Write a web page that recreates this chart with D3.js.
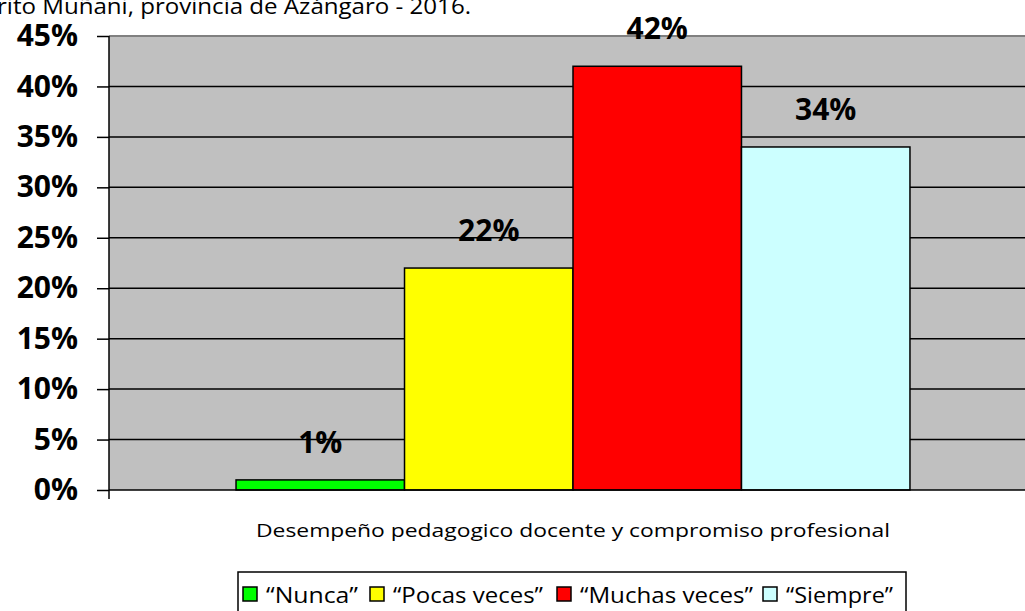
<!DOCTYPE html>
<html>
<head>
<meta charset="utf-8">
<script src="https://cdn.jsdelivr.net/npm/d3@7"></script>
<style>
  html, body { margin: 0; padding: 0; background: #fff; overflow: hidden; }
  svg { display: block; }
  text { font-family: "Open Sans", "Noto Sans", sans-serif; }
</style>
</head>
<body>
<div id="grafico"></div>
<script>
// Données
const categorias = ["Desempeño pedagogico docente y compromiso profesional"];
const series     = ["“Nunca”", "“Pocas veces”", "“Muchas veces”", "“Siempre”"];
const valores    = [0.01, 0.22, 0.42, 0.34];
const colores    = ["#00ff00", "#ffff00", "#ff0000", "#ccffff"];
const ticksY     = [0, 0.05, 0.10, 0.15, 0.20, 0.25, 0.30, 0.35, 0.40, 0.45];
const titulo     = "rito Muñani, provincia de Azángaro - 2016.";

const largeur = 1025, hauteur = 611;
// zone de tracé (déborde un peu à droite, comme l'original)
const zone = { gauche: 109, droite: 1037, haut: 36, bas: 490 };

const svg = d3.select("#grafico").append("svg")
    .attr("width", largeur).attr("height", hauteur);

// titre coupé en haut
svg.append("text")
    .attr("x", -3).attr("y", 14)
    .attr("font-size", 22).attr("fill", "#000")
    .attr("textLength", 474).attr("lengthAdjust", "spacingAndGlyphs")
    .text(titulo);

// Échelles
const y = d3.scaleLinear().domain([0, 0.45]).range([zone.bas, zone.haut]);
const x0 = d3.scaleBand().domain(categorias)
    .range([zone.gauche, zone.droite]).paddingInner(0).paddingOuter(0.1885);
const x1 = d3.scaleBand().domain(series).range([0, x0.bandwidth()]).padding(0);

// fond gris
svg.append("rect")
    .attr("x", zone.gauche).attr("y", zone.haut)
    .attr("width", zone.droite - zone.gauche).attr("height", zone.bas - zone.haut)
    .attr("fill", "#c0c0c0");

// bord supérieur gris foncé
svg.append("line")
    .attr("x1", zone.gauche).attr("x2", zone.droite)
    .attr("y1", zone.haut).attr("y2", zone.haut)
    .attr("stroke", "#808080").attr("stroke-width", 2);

// quadrillage
svg.append("g").selectAll("line")
    .data(ticksY.filter(t => t > 0 && t < 0.45))
    .join("line")
    .attr("x1", zone.gauche).attr("x2", zone.droite)
    .attr("y1", d => y(d)).attr("y2", d => y(d))
    .attr("stroke", "#000").attr("stroke-width", 1.5);

// axe Y
const axeY = d3.axisLeft(y).tickValues(ticksY).tickSize(12).tickPadding(19)
    .tickFormat(d => Math.round(d * 100) + "%");
const gY = svg.append("g").attr("transform", `translate(${zone.gauche},0)`).call(axeY);
gY.select(".domain").remove();
gY.selectAll(".tick line").attr("stroke", "#000").attr("stroke-width", 1.5);
gY.selectAll(".tick text")
    .attr("font-size", 30).attr("font-weight", "bold").attr("fill", "#000")
    .attr("font-family", "'Open Sans', sans-serif");

svg.append("line")
    .attr("x1", zone.gauche).attr("x2", zone.gauche)
    .attr("y1", zone.haut).attr("y2", zone.bas + 9)
    .attr("stroke", "#000").attr("stroke-width", 1.5);

// barres
const donnees = series.map((s, i) => ({ serie: s, valeur: valores[i], couleur: colores[i] }));
const gBarres = svg.append("g").attr("transform", `translate(${x0(categorias[0])},0)`);
gBarres.selectAll("rect").data(donnees).join("rect")
    .attr("x", d => x1(d.serie))
    .attr("y", d => y(d.valeur))
    .attr("width", x1.bandwidth())
    .attr("height", d => y(0) - y(d.valeur))
    .attr("fill", d => d.couleur)
    .attr("stroke", "#000").attr("stroke-width", 1.5);

// étiquettes
gBarres.selectAll("text.etiquette").data(donnees).join("text")
    .attr("class", "etiquette")
    .attr("x", d => x1(d.serie) + x1.bandwidth() / 2)
    .attr("y", d => y(d.valeur) - 27)
    .attr("text-anchor", "middle")
    .attr("font-size", 30).attr("font-weight", "bold").attr("fill", "#000")
    .text(d => Math.round(d.valeur * 100) + "%");

// axe X (base)
svg.append("line")
    .attr("x1", zone.gauche).attr("x2", zone.droite)
    .attr("y1", zone.bas).attr("y2", zone.bas)
    .attr("stroke", "#000").attr("stroke-width", 1.5);

// titre de catégorie
svg.append("text")
    .attr("x", x0(categorias[0]) + x0.bandwidth() / 2).attr("y", 537)
    .attr("text-anchor", "middle")
    .attr("font-size", 19).attr("fill", "#000")
    .attr("textLength", 634).attr("lengthAdjust", "spacingAndGlyphs")
    .text(categorias[0]);

// légende
const legende = svg.append("g");
legende.append("rect")
    .attr("x", 238).attr("y", 572).attr("width", 906 - 238).attr("height", 60)
    .attr("fill", "#fff").attr("stroke", "#000").attr("stroke-width", 1.5);

const posLegende = [243, 370, 557, 763];
const largTexte  = [92, 150, 173, 107];
const itemLeg = legende.selectAll("g.item").data(donnees).join("g")
    .attr("class", "item")
    .attr("transform", (d, i) => `translate(${posLegende[i]},587)`);
itemLeg.append("rect")
    .attr("width", 14).attr("height", 14)
    .attr("fill", d => d.couleur).attr("stroke", "#000").attr("stroke-width", 1.5);
itemLeg.append("text")
    .attr("x", 23).attr("y", 16)
    .attr("font-size", 21).attr("fill", "#000")
    .attr("textLength", (d, i) => largTexte[i]).attr("lengthAdjust", "spacingAndGlyphs")
    .text(d => d.serie);
</script>
</body>
</html>
